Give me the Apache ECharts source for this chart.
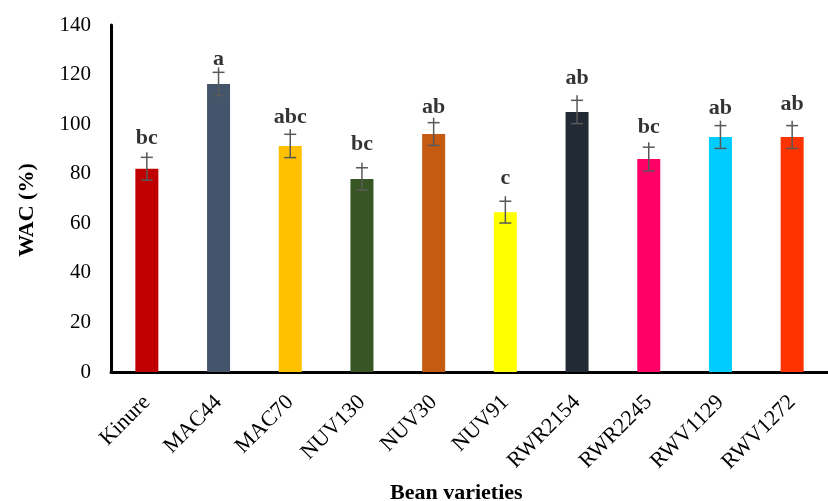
<!DOCTYPE html>
<html><head><meta charset="utf-8">
<script src="https://cdn.jsdelivr.net/npm/echarts@6/dist/echarts.min.js"></script>
<style>html,body{margin:0;padding:0;background:#fff}#c{width:828px;height:501px}</style>
</head><body><div id="c"></div>
<script>
const categories = ['Kinure','MAC44','MAC70','NUV130','NUV30','NUV91','RWR2154','RWR2245','RWV1129','RWV1272'];
const values = [82, 116.2, 91.2, 77.9, 96, 64.5, 104.9, 85.9, 94.8, 94.8];
const errors = [4.6, 4.7, 4.7, 4.5, 4.6, 4.4, 4.7, 4.8, 4.6, 4.6];
const letters = ['bc','a','abc','bc','ab','c','ab','bc','ab','ab'];
const letterHeights = [94.4, 126.3, 102.9, 92, 106.9, 78.3, 118.6, 98.8, 106.5, 108.1];
const colors = ['#C00000','#44546A','#FFC000','#375623','#C55A11','#FFFF00','#222A35','#FF0066','#00CCFF','#FF3300'];
const yTicks = [0, 20, 40, 60, 80, 100, 120, 140];

const font = '"Liberation Serif","Times New Roman",serif';
const chart = echarts.init(document.getElementById('c'));
chart.setOption({
  animation: false,
  grid: {left: 111, top: 25, right: -16, bottom: 129, containLabel: false},
  xAxis: {
    type: 'category', data: categories,
    axisLine: {lineStyle: {color: '#000', width: 3}},
    axisTick: {show: false},
    axisLabel: {rotate: 45, margin: 27, fontFamily: font, fontSize: 22, color: '#000'}
  },
  yAxis: {
    type: 'value', min: yTicks[0], max: yTicks[yTicks.length-1], interval: 20,
    axisLine: {show: true, lineStyle: {color: '#000', width: 3}},
    axisTick: {show: false},
    splitLine: {show: false},
    axisLabel: {margin: 20, fontFamily: font, fontSize: 21, color: '#000'}
  },
  graphic: [{
    type: 'text', left: 390, top: 482,
    style: {text: 'Bean varieties', font: 'bold 22px ' + font, fill: '#000'}
  }, {
    type: 'text', x: 27, y: 210, rotation: Math.PI / 2,
    style: {text: 'WAC (%)', font: 'bold 22px ' + font, fill: '#000', align: 'center', verticalAlign: 'middle'}
  }],
  series: [{
    type: 'bar', barWidth: 23,
    data: values.map((v, i) => ({value: v, itemStyle: {color: colors[i]}}))
  }, {
    type: 'custom',
    data: values.map((v, i) => [i, v - errors[i], v + errors[i]]),
    renderItem: function (params, api) {
      const x = api.coord([api.value(0), 0])[0];
      const lo = api.coord([api.value(0), api.value(1)])[1];
      const hi = api.coord([api.value(0), api.value(2)])[1];
      const st = {stroke: '#595959', lineWidth: 1.5};
      return {type: 'group', children: [
        {type: 'line', shape: {x1: x, y1: hi - 5, x2: x, y2: lo}, style: st},
        {type: 'line', shape: {x1: x - 6, y1: hi, x2: x + 6, y2: hi}, style: st},
        {type: 'line', shape: {x1: x - 6, y1: lo, x2: x + 6, y2: lo}, style: st}
      ]};
    },
    z: 5
  }, {
    type: 'scatter', symbolSize: 0,
    data: letterHeights.map((h, i) => [i, h]),
    label: {
      show: true, position: 'inside',
      formatter: p => letters[p.dataIndex],
      fontFamily: font, fontSize: 22, fontWeight: 'bold', color: '#000'
    }
  }]
});
</script></body></html>
